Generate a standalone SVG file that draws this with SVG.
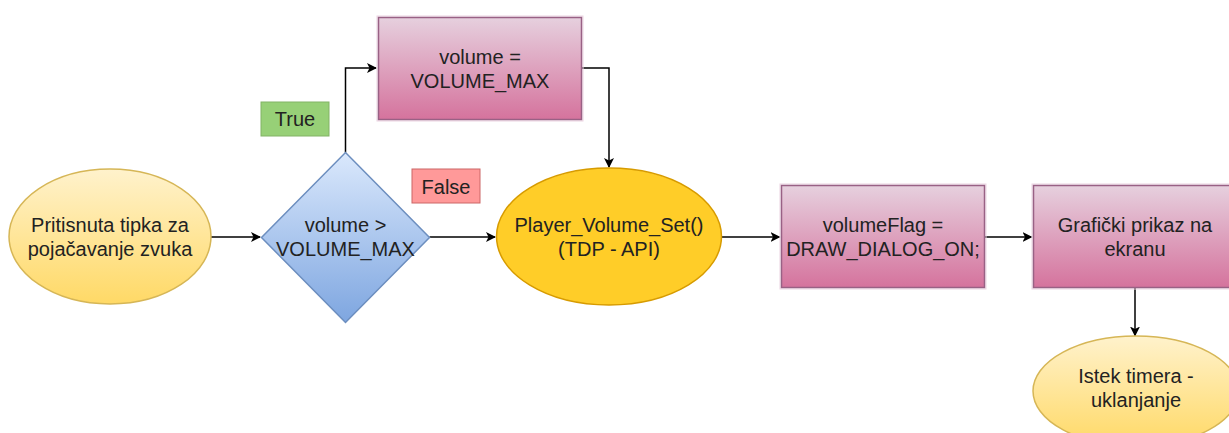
<svg xmlns="http://www.w3.org/2000/svg" width="1229" height="433" viewBox="0 0 1229 433">
<style>
text{font-family:"Liberation Sans",Arial,sans-serif;font-size:20px;fill:#222;text-anchor:middle}
.edge{fill:none;stroke:#000;stroke-width:1.5}
.pink{fill:url(#gPink);stroke:#996185;stroke-width:1.5}
.pinkglow{fill:none;stroke:#ecd3e2;stroke-width:1}
.yel{fill:url(#gYel);stroke:#d6b656;stroke-width:1.5}
</style>
<defs>
<linearGradient id="gPink" x1="0" y1="0" x2="0" y2="1"><stop offset="0" stop-color="#e6d0de"/><stop offset="1" stop-color="#d5739d"/></linearGradient>
<linearGradient id="gYel" x1="0" y1="0" x2="0" y2="1"><stop offset="0" stop-color="#fff2cc"/><stop offset="1" stop-color="#ffd966"/></linearGradient>
<linearGradient id="gBlue" x1="0" y1="0" x2="0" y2="1"><stop offset="0" stop-color="#dae8fc"/><stop offset="1" stop-color="#7ea6e0"/></linearGradient>
<marker id="arr" viewBox="0 0 10 10" refX="9" refY="5" markerWidth="10" markerHeight="10" markerUnits="userSpaceOnUse" orient="auto"><path d="M0,0 L10,5 L0,10 L2.5,5 Z" fill="#000"/></marker>
</defs>
<rect width="1229" height="433" fill="#fff"/>
<g id="connectors">
<path class="edge" d="M211,237 L260,237" marker-end="url(#arr)"/>
<path class="edge" d="M345.5,152.5 L345.5,68 L376,68" marker-end="url(#arr)"/>
<path class="edge" d="M582,68 L609,68 L609,167" marker-end="url(#arr)"/>
<path class="edge" d="M429.5,237 L495,237" marker-end="url(#arr)"/>
<path class="edge" d="M721,237 L779.5,237" marker-end="url(#arr)"/>
<path class="edge" d="M985,237 L1031.5,237" marker-end="url(#arr)"/>
<path class="edge" d="M1135,288 L1135,335.5" marker-end="url(#arr)"/>
</g>
<g id="start">
<ellipse class="yel" cx="110" cy="236.5" rx="101" ry="67.5"/>
<text x="110" y="231.5">Pritisnuta tipka za</text>
<text x="110" y="255.5">pojačavanje zvuka</text>
</g>
<g id="decision">
<polygon points="345.5,152.5 429.5,237.5 345.5,322.5 261.5,237.5" fill="url(#gBlue)" stroke="#6c8ebf" stroke-width="1.5"/>
<text x="345.5" y="232">volume &gt;</text>
<text x="345.5" y="256">VOLUME_MAX</text>
</g>
<g id="label-true">
<rect x="261" y="102" width="68" height="34" fill="#97d077" stroke="#82b366" stroke-width="1"/>
<text x="295" y="126">True</text>
</g>
<g id="label-false">
<rect x="412" y="169" width="68" height="34" fill="#ff9999" stroke="#cc6666" stroke-width="1"/>
<text x="446" y="193.5">False</text>
</g>
<g id="set-max">
<rect class="pinkglow" x="377" y="16" width="206" height="105"/>
<rect class="pink" x="378.5" y="17.5" width="203" height="102"/>
<text x="480" y="63.5">volume =</text>
<text x="480" y="87.5">VOLUME_MAX</text>
</g>
<g id="player-set">
<ellipse cx="609" cy="236.5" rx="112.5" ry="68.5" fill="#ffcd28" stroke="#d79b00" stroke-width="1.5"/>
<text x="609" y="232">Player_Volume_Set()</text>
<text x="609" y="256">(TDP - API)</text>
</g>
<g id="volume-flag">
<rect class="pinkglow" x="780" y="184" width="206" height="105"/>
<rect class="pink" x="781.5" y="185.5" width="203" height="102"/>
<text x="883" y="232">volumeFlag =</text>
<text x="883" y="256">DRAW_DIALOG_ON;</text>
</g>
<g id="display">
<rect class="pinkglow" x="1032" y="184" width="206" height="105"/>
<rect class="pink" x="1033.5" y="185.5" width="203" height="102"/>
<text x="1135" y="232">Grafički prikaz na</text>
<text x="1135" y="256">ekranu</text>
</g>
<g id="timeout">
<ellipse class="yel" cx="1136" cy="391" rx="103" ry="55"/>
<text x="1136" y="383">Istek timera -</text>
<text x="1136" y="406.5">uklanjanje</text>
</g>
</svg>
